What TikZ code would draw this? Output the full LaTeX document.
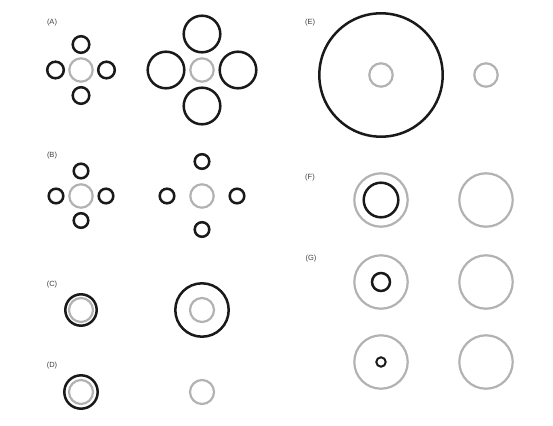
\documentclass[tikz,border=0pt]{standalone}
\usepackage{fontspec}
\setsansfont{Liberation Sans}
\usetikzlibrary{positioning}

\begin{document}
\begin{tikzpicture}[x=1pt, y=-1pt,
  ring/.style={draw=black!90, line width=2.5pt, circle, inner sep=0pt, minimum size=#1},
  core/.style={draw=gray!60, line width=2.2pt, circle, inner sep=0pt, minimum size=#1},
  tag/.style={font=\sffamily\fontsize{7.5}{8}\selectfont, text=black!75},
]
  \useasboundingbox (0,0) rectangle (553,425);

  % panel labels
  \node[tag] (tA) at (52,23) {(A)};
  \node[tag] (tB) at (52,156) {(B)};
  \node[tag] (tC) at (52,285) {(C)};
  \node[tag] (tD) at (52,366) {(D)};
  \node[tag] (tE) at (310,23) {(E)};
  \node[tag] (tF) at (310,178) {(F)};
  \node[tag] (tG) at (311,259) {(G)};

  % (A) small and large flankers
  \node[core=23.4] (aL) at (81,70) {};
  \foreach \dx/\dy/\n in {25.5/0/e, -25.5/0/w, 0/-25.5/n, 0/25.5/s}
    \node[ring=16.6] (aL\n) at ([shift={(\dx,\dy)}]aL) {};
  \node[core=23.4] (aR) at (202,70) {};
  \foreach \dx/\dy/\n in {36/0/e, -36/0/w, 0/-36/n, 0/36/s}
    \node[ring=36.6] (aR\n) at ([shift={(\dx,\dy)}]aR) {};

  % (B) near and far flankers
  \node[core=23.4] (bL) at (81,196) {};
  \foreach \dx/\dy/\n in {25/0/e, -25/0/w, 0/-25/n, 0/24.5/s}
    \node[ring=14.6] (bL\n) at ([shift={(\dx,\dy)}]bL) {};
  \node[core=23.4] (bR) at (202,196) {};
  \foreach \dx/\dy/\n in {35/0/e, -35/0/w, 0/-34.5/n, 0/33.5/s}
    \node[ring=14.6] (bR\n) at ([shift={(\dx,\dy)}]bR) {};

  % (C)
  \node[core=24] (cL) at (81,310) {};
  \node[ring=31.4] (cLo) at (cL) {};
  \node[core=24] (cR) at (202,310) {};
  \node[ring=53.4] (cRo) at (cR) {};

  % (D)
  \node[core=24] (dL) at (81,392) {};
  \node[ring=33.4] (dLo) at (dL) {};
  \node[core=24] (dR) at (202,392) {};

  % (E)
  \node[core=23.4] (eL) at (381,75) {};
  \node[ring=123.4] (eLo) at (eL) {};
  \node[core=23.4] (eR) at (486,75) {};

  % (F)
  \node[core=53.4] (fL) at (381,200) {};
  \node[ring=34.6] (fLi) at (fL) {};
  \node[core=53.4] (fR) at (486,200) {};

  % (G)
  \node[core=53.4] (gL) at (381,282) {};
  \node[ring=18] (gLi) at (gL) {};
  \node[core=53.4] (gR) at (486,282) {};
  \node[core=53.4] (hL) at (381,362) {};
  \node[ring=9.4, line width=2pt] (hLi) at (hL) {};
  \node[core=53.4] (hR) at (486,362) {};
\end{tikzpicture}
\end{document}
